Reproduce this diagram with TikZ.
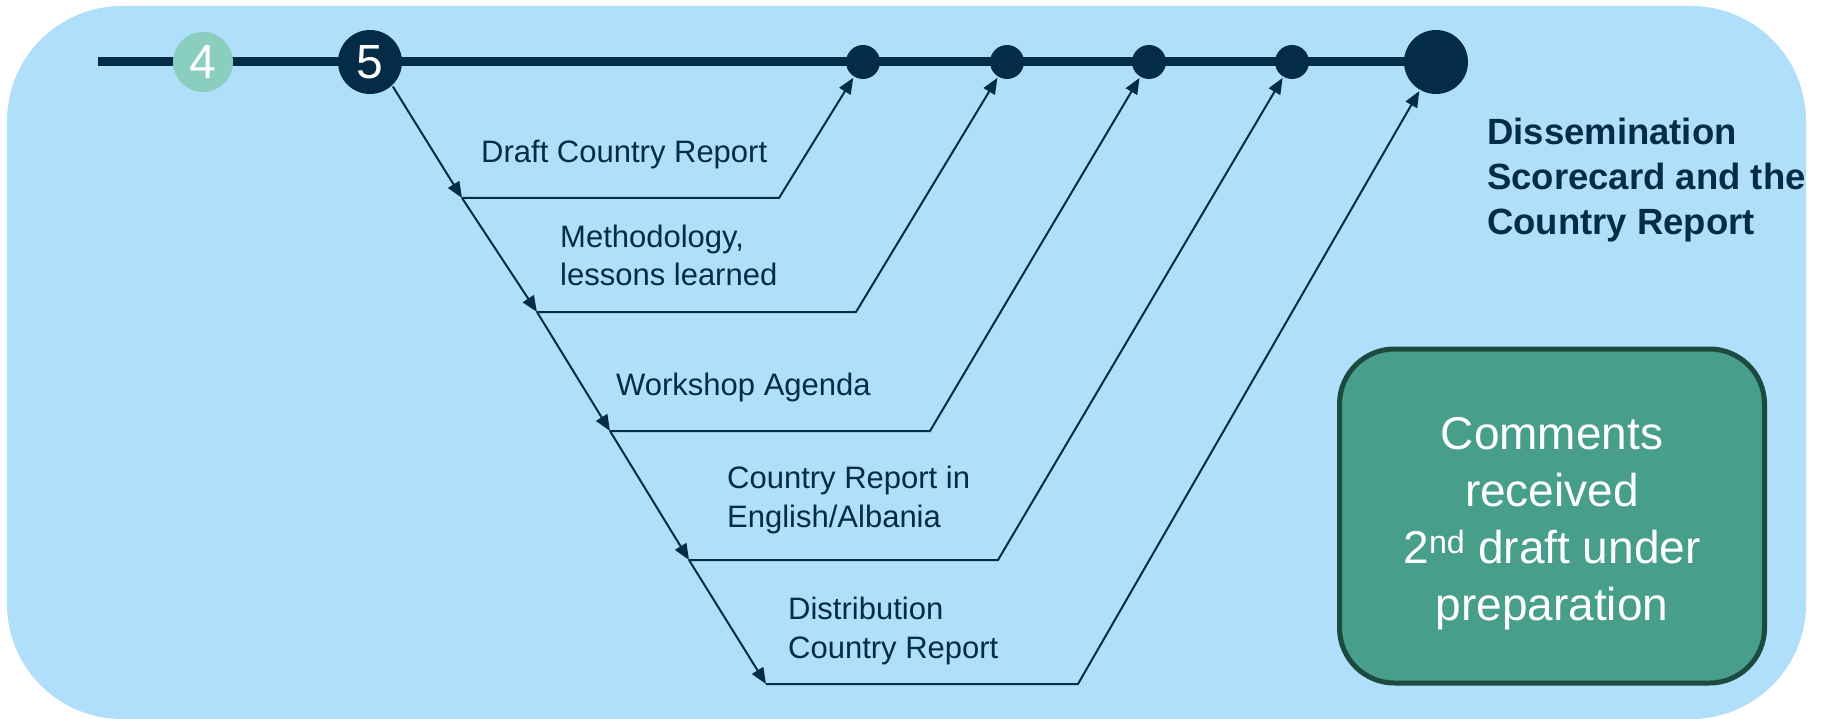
\documentclass[tikz,border=0pt]{standalone}
\usepackage{fontspec}
\setmainfont{Liberation Sans}
\usepackage{tikz}
\usetikzlibrary{positioning}
\usetikzlibrary{arrows.meta}
\usetikzlibrary{backgrounds}

\definecolor{skyback}{HTML}{AFDFFB}
\definecolor{navy}{HTML}{042C47}
\definecolor{mint}{HTML}{8ACEBF}
\definecolor{boxgreen}{HTML}{479E8B}
\definecolor{boxedge}{HTML}{1C4A3E}

\tikzset{
    steplabel/.style={anchor=base west, inner sep=0pt, align=left, text=navy,
        font=\fontsize{31}{38.5}\selectfont},
    flow/.style={draw=navy, line width=2pt},
}

\begin{document}
\begin{tikzpicture}[x=1pt,y=-1pt]
        \useasboundingbox (0,0) rectangle (1825,719);

        \coordinate (start) at (98,62);
        \begin{scope}[every node/.style={circle,fill=navy,inner sep=0pt,outer sep=1.5pt}]
            \node (4) [fill=mint, minimum size=60pt, text=white, font=\fontsize{48}{48}\selectfont] at (203,62) {4};
            \node (5) [minimum size=64pt, text=white, font=\fontsize{48}{48}\selectfont] at (370,62) {5};
            \node (m1) [minimum size=34pt] at (863,62) {};
            \node (m2) [minimum size=34pt] at (1007,62) {};
            \node (m3) [minimum size=34pt] at (1149,62) {};
            \node (m4) [minimum size=34pt] at (1292,62) {};
            \node (fin) [minimum size=64pt] at (1436,62) {};
        \end{scope}

        \begin{scope}[on background layer]
            \fill[skyback, rounded corners=115pt] (7,6) rectangle (1806,719);
            \draw[navy, line width=9pt] (start) -- (fin.center);
        \end{scope}

        % corners of the zig-zag
        \coordinate (c1) at (462,198);
        \coordinate (c2) at (537,312);
        \coordinate (c3) at (610,431);
        \coordinate (c4) at (689,560);
        \coordinate (c5) at (766,684);
        \coordinate (r1) at (779,198);
        \coordinate (r2) at (856,312);
        \coordinate (r3) at (930,431);
        \coordinate (r4) at (998,560);
        \coordinate (r5) at (1078,684);

        \begin{scope}[>={Triangle[length=16pt,width=13pt]}]
            \draw [flow,->] (5.-47) -- (c1);
            \draw [flow,->] (c1) -- (c2);
            \draw [flow,->] (c2) -- (c3);
            \draw [flow,->] (c3) -- (c4);
            \draw [flow,->] (c4) -- (c5);
            \draw [flow,->] (c1) -- (r1) -- (m1);
            \draw [flow,->] (c2) -- (r2) -- (m2);
            \draw [flow,->] (c3) -- (r3) -- (m3);
            \draw [flow,->] (c4) -- (r4) -- (m4);
            \draw [flow,->] (c5) -- (r5) -- (fin);
        \end{scope}

        % multi-line labels sit on the baseline of their last line
        \node (draft) [steplabel] at (481,163) {Draft Country Report};
        \node (method) [steplabel] at (560,286) {Methodology,\\lessons learned};
        \node (agenda) [steplabel] at (616,395) {Workshop Agenda};
        \node (language) [steplabel] at (727,527) {Country Report in\\English/Albania};
        \node (distrib) [steplabel] at (788,658) {Distribution\\Country Report};

        \node (title) [anchor=base west, inner sep=0pt, align=left, text=navy,
            font=\bfseries\fontsize{36.5}{45}\selectfont] at (1487,235)
            {Dissemination\\Scorecard and the\\Country Report};

        \node (status) [draw=boxedge, line width=5pt, fill=boxgreen, rounded corners=55pt,
            minimum width=425pt, minimum height=334pt] at (1552,516) {};
        \node (statustext) [anchor=base, inner sep=0pt, text=white, align=center,
            font=\fontsize{46}{57}\selectfont] at (1552,620)
            {Comments\\received\\2\textsuperscript{nd} draft under\\preparation};
    \end{tikzpicture}
\end{document}
